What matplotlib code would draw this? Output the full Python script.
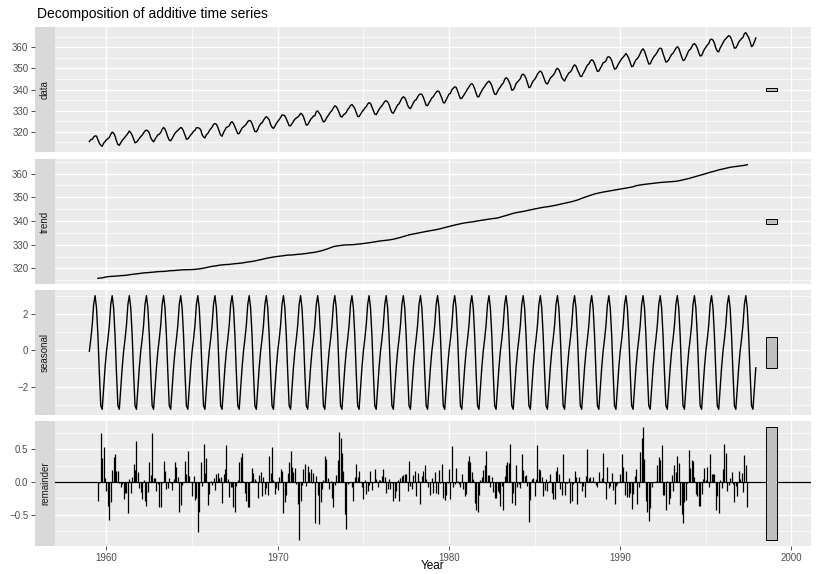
import numpy as np
import matplotlib
matplotlib.use("Agg")
import matplotlib.pyplot as plt
from matplotlib.patches import Rectangle
from matplotlib.ticker import MultipleLocator, AutoMinorLocator

plt.rcParams['font.family'] = ['Liberation Sans', 'DejaVu Sans']

# monthly CO2 concentration (ppm), Jan 1959 - Dec 1997
co2 = [
    315.42, 316.31, 316.50, 317.56, 318.13, 318.00, 316.39, 314.65, 313.68, 313.18, 314.66, 315.43,
    316.27, 316.81, 317.42, 318.87, 319.87, 319.43, 318.01, 315.74, 314.00, 313.68, 314.84, 316.03,
    316.73, 317.54, 318.38, 319.31, 320.42, 319.61, 318.42, 316.63, 314.83, 315.16, 315.94, 316.85,
    317.78, 318.40, 319.53, 320.42, 320.85, 320.45, 319.45, 317.25, 316.11, 315.27, 316.53, 317.53,
    318.58, 318.92, 319.70, 321.22, 322.08, 321.31, 319.58, 317.61, 316.05, 315.83, 316.91, 318.20,
    319.41, 320.07, 320.74, 321.40, 322.06, 321.73, 320.27, 318.54, 316.54, 316.71, 317.53, 318.55,
    319.27, 320.28, 320.73, 321.97, 322.00, 321.71, 321.05, 318.71, 317.66, 317.14, 318.70, 319.25,
    320.46, 321.43, 322.23, 323.54, 323.91, 323.59, 322.24, 320.20, 318.48, 317.94, 319.63, 320.87,
    322.17, 322.34, 322.88, 324.25, 324.83, 323.93, 322.38, 320.76, 319.10, 319.24, 320.56, 321.80,
    322.40, 322.99, 323.73, 324.86, 325.40, 325.20, 323.98, 321.95, 320.18, 320.09, 321.16, 322.74,
    323.83, 324.26, 325.47, 326.50, 327.21, 326.54, 325.72, 323.50, 322.22, 321.62, 322.69, 323.95,
    324.89, 325.82, 326.77, 327.97, 327.91, 327.50, 326.18, 324.53, 322.93, 322.90, 323.85, 324.96,
    326.01, 326.51, 327.01, 327.62, 328.76, 328.40, 327.20, 325.27, 323.20, 323.40, 324.63, 325.85,
    326.60, 327.47, 327.58, 329.56, 329.90, 328.92, 327.88, 326.16, 324.68, 325.04, 326.34, 327.39,
    328.37, 329.40, 330.14, 331.33, 332.31, 331.90, 330.70, 329.15, 327.35, 327.02, 327.99, 328.48,
    329.18, 330.55, 331.32, 332.48, 332.92, 332.08, 331.01, 329.23, 327.27, 327.21, 328.29, 329.41,
    330.23, 331.25, 331.87, 333.14, 333.80, 333.43, 331.73, 329.90, 328.40, 328.17, 329.32, 330.59,
    331.58, 332.39, 333.33, 334.41, 334.71, 334.17, 332.89, 330.77, 329.14, 328.78, 330.14, 331.52,
    332.75, 333.24, 334.53, 335.90, 336.57, 336.10, 334.76, 332.59, 331.42, 330.98, 332.24, 333.68,
    334.80, 335.22, 336.47, 337.59, 337.84, 337.72, 336.37, 334.51, 332.60, 332.38, 333.75, 334.78,
    336.05, 336.59, 337.79, 338.71, 339.30, 339.12, 337.56, 335.92, 333.75, 333.70, 335.12, 336.56,
    337.84, 338.19, 339.91, 340.60, 341.29, 341.00, 339.39, 337.43, 335.72, 335.84, 336.93, 338.04,
    339.06, 340.30, 341.21, 342.33, 342.74, 342.08, 340.32, 338.26, 336.52, 336.68, 338.19, 339.44,
    340.57, 341.44, 342.53, 343.39, 343.96, 343.18, 341.88, 339.65, 337.81, 337.69, 339.09, 340.32,
    341.20, 342.35, 342.93, 344.77, 345.58, 345.14, 343.81, 342.21, 339.69, 339.82, 340.98, 342.82,
    343.52, 344.33, 345.11, 346.88, 347.25, 346.62, 345.22, 343.11, 340.90, 341.18, 342.80, 344.04,
    344.79, 345.82, 347.25, 348.17, 348.74, 348.07, 346.38, 344.51, 342.92, 342.62, 344.06, 345.38,
    346.11, 346.78, 347.68, 349.37, 350.03, 349.37, 347.76, 345.73, 344.68, 343.99, 345.48, 346.72,
    347.84, 348.29, 349.23, 350.80, 351.66, 351.07, 349.33, 347.92, 346.27, 346.18, 347.64, 348.78,
    350.25, 351.54, 352.05, 353.41, 354.04, 353.62, 352.22, 350.27, 348.55, 348.72, 349.91, 351.18,
    352.60, 352.92, 353.53, 355.26, 355.52, 354.97, 353.75, 351.52, 349.64, 349.83, 351.14, 352.37,
    353.50, 354.55, 355.23, 356.04, 357.00, 356.07, 354.67, 352.76, 350.82, 351.04, 352.69, 354.07,
    354.59, 355.63, 357.03, 358.48, 359.22, 358.12, 356.06, 353.92, 352.05, 352.11, 353.64, 354.89,
    355.88, 356.63, 357.72, 359.07, 359.58, 359.17, 356.94, 354.92, 352.94, 353.23, 354.09, 355.33,
    356.63, 357.10, 358.32, 359.41, 360.23, 359.55, 357.53, 355.48, 353.67, 353.95, 355.30, 356.78,
    358.34, 358.89, 359.95, 361.25, 361.67, 360.94, 359.55, 357.49, 355.84, 356.00, 357.59, 359.05,
    359.98, 361.03, 361.66, 363.48, 363.82, 363.30, 361.94, 359.50, 358.11, 357.80, 359.61, 360.74,
    362.09, 363.29, 364.06, 364.76, 365.45, 365.01, 363.70, 361.54, 359.51, 359.65, 360.80, 362.38,
    363.23, 364.06, 364.61, 366.40, 366.84, 365.68, 364.52, 362.57, 360.24, 360.83, 362.49, 364.34,
]
start_year = 1959
period = 12
panel_names = ['data', 'trend', 'seasonal', 'remainder']
panel_steps = [10, 10, 2, 0.5]
x_ticks = [1960, 1970, 1980, 1990, 2000]

x = np.array(co2)
t = start_year + np.arange(len(x)) / period

# classical additive decomposition (same steps as R's decompose)
w = np.r_[0.5, np.ones(period - 1), 0.5] / period
trend = np.full(len(x), np.nan)
trend[period // 2:-(period // 2)] = np.convolve(x, w, mode='valid')
detr = x - trend
figure = np.array([np.nanmean(detr[i::period]) for i in range(period)])
figure = figure - figure.mean()
seasonal = np.tile(figure, len(x) // period)
remainder = x - trend - seasonal
series = [x, trend, seasonal, remainder]

# range bars at the right
t0, t1 = t[0], t[-1]
barwidth = (t1 - t0) / 64
bar_left = t1 + barwidth
bar_len = min(np.nanmax(s) - np.nanmin(s) for s in series)
xmin = t0 - 0.05 * (bar_left + barwidth - t0)
xmax = bar_left + barwidth + 0.05 * (bar_left + barwidth - t0)

W, H = 816, 574
fig = plt.figure(figsize=(W / 100, H / 100), dpi=100)
tops = [27, 159, 290, 421]
ph = 125
pl, pr = 55, 811
bg = '#EBEBEB'
txt = '#4D4D4D'

for i, (name, s, step) in enumerate(zip(panel_names, series, panel_steps)):
    b = 1 - (tops[i] + ph) / H
    ax = fig.add_axes([pl / W, b, (pr - pl) / W, ph / H])
    sa = fig.add_axes([35 / W, b, 20 / W, ph / H], sharey=ax)
    ok = ~np.isnan(s)
    if name == 'remainder':
        ax.vlines(t[ok], 0, s[ok], color='black', lw=0.9)
        ax.axhline(0, color='black', lw=0.9)
    else:
        ax.plot(t[ok], s[ok], color='black', lw=1.0)
    mid = (np.nanmax(s) + np.nanmin(s)) / 2
    ax.add_patch(Rectangle((bar_left, mid - bar_len / 2), barwidth, bar_len,
                           facecolor='#BFBFBF', edgecolor='black', lw=0.7, zorder=3))
    ax.autoscale_view()
    ax.set_xlim(xmin, xmax)
    ax.set_facecolor(bg)
    ax.yaxis.set_major_locator(MultipleLocator(step))
    ax.yaxis.set_minor_locator(AutoMinorLocator(2))
    ax.xaxis.set_major_locator(plt.FixedLocator(x_ticks))
    ax.xaxis.set_minor_locator(plt.FixedLocator([1955, 1965, 1975, 1985, 1995]))
    ax.grid(which='major', color='white', lw=1.0)
    ax.grid(which='minor', color='white', lw=0.5)
    ax.set_axisbelow(True)
    for sp in ax.spines.values():
        sp.set_visible(False)
    ax.tick_params(axis='y', which='both', length=0, labelleft=False)
    ax.tick_params(axis='x', which='minor', length=0)
    if i < 3:
        ax.tick_params(axis='x', which='major', length=0, labelbottom=False)
    else:
        ax.tick_params(axis='x', which='major', length=2.75, width=0.6, color='#333333',
                       labelsize=7, labelcolor=txt, pad=2)

    # strip on the left, carrying the y axis
    sa.set_facecolor('#D9D9D9')
    for sp in sa.spines.values():
        sp.set_visible(False)
    sa.set_xticks([])
    sa.tick_params(axis='y', which='major', length=2.75, width=0.6, color='#333333',
                   labelsize=7, labelcolor=txt, pad=2)
    sa.tick_params(axis='y', which='minor', length=0)
    sa.text(0.5, 0.5, name, rotation=90, ha='center', va='center', fontsize=7,
            color='#1A1A1A', transform=sa.transAxes)

fig.text(37 / W, 1 - 18 / H, 'Decomposition of additive time series', fontsize=10,
         ha='left', va='baseline')
fig.text((pl + pr) / 2 / W, 2 / H, 'Year', fontsize=8.5, ha='center', va='bottom')

fig.savefig('out.png', dpi=100)
